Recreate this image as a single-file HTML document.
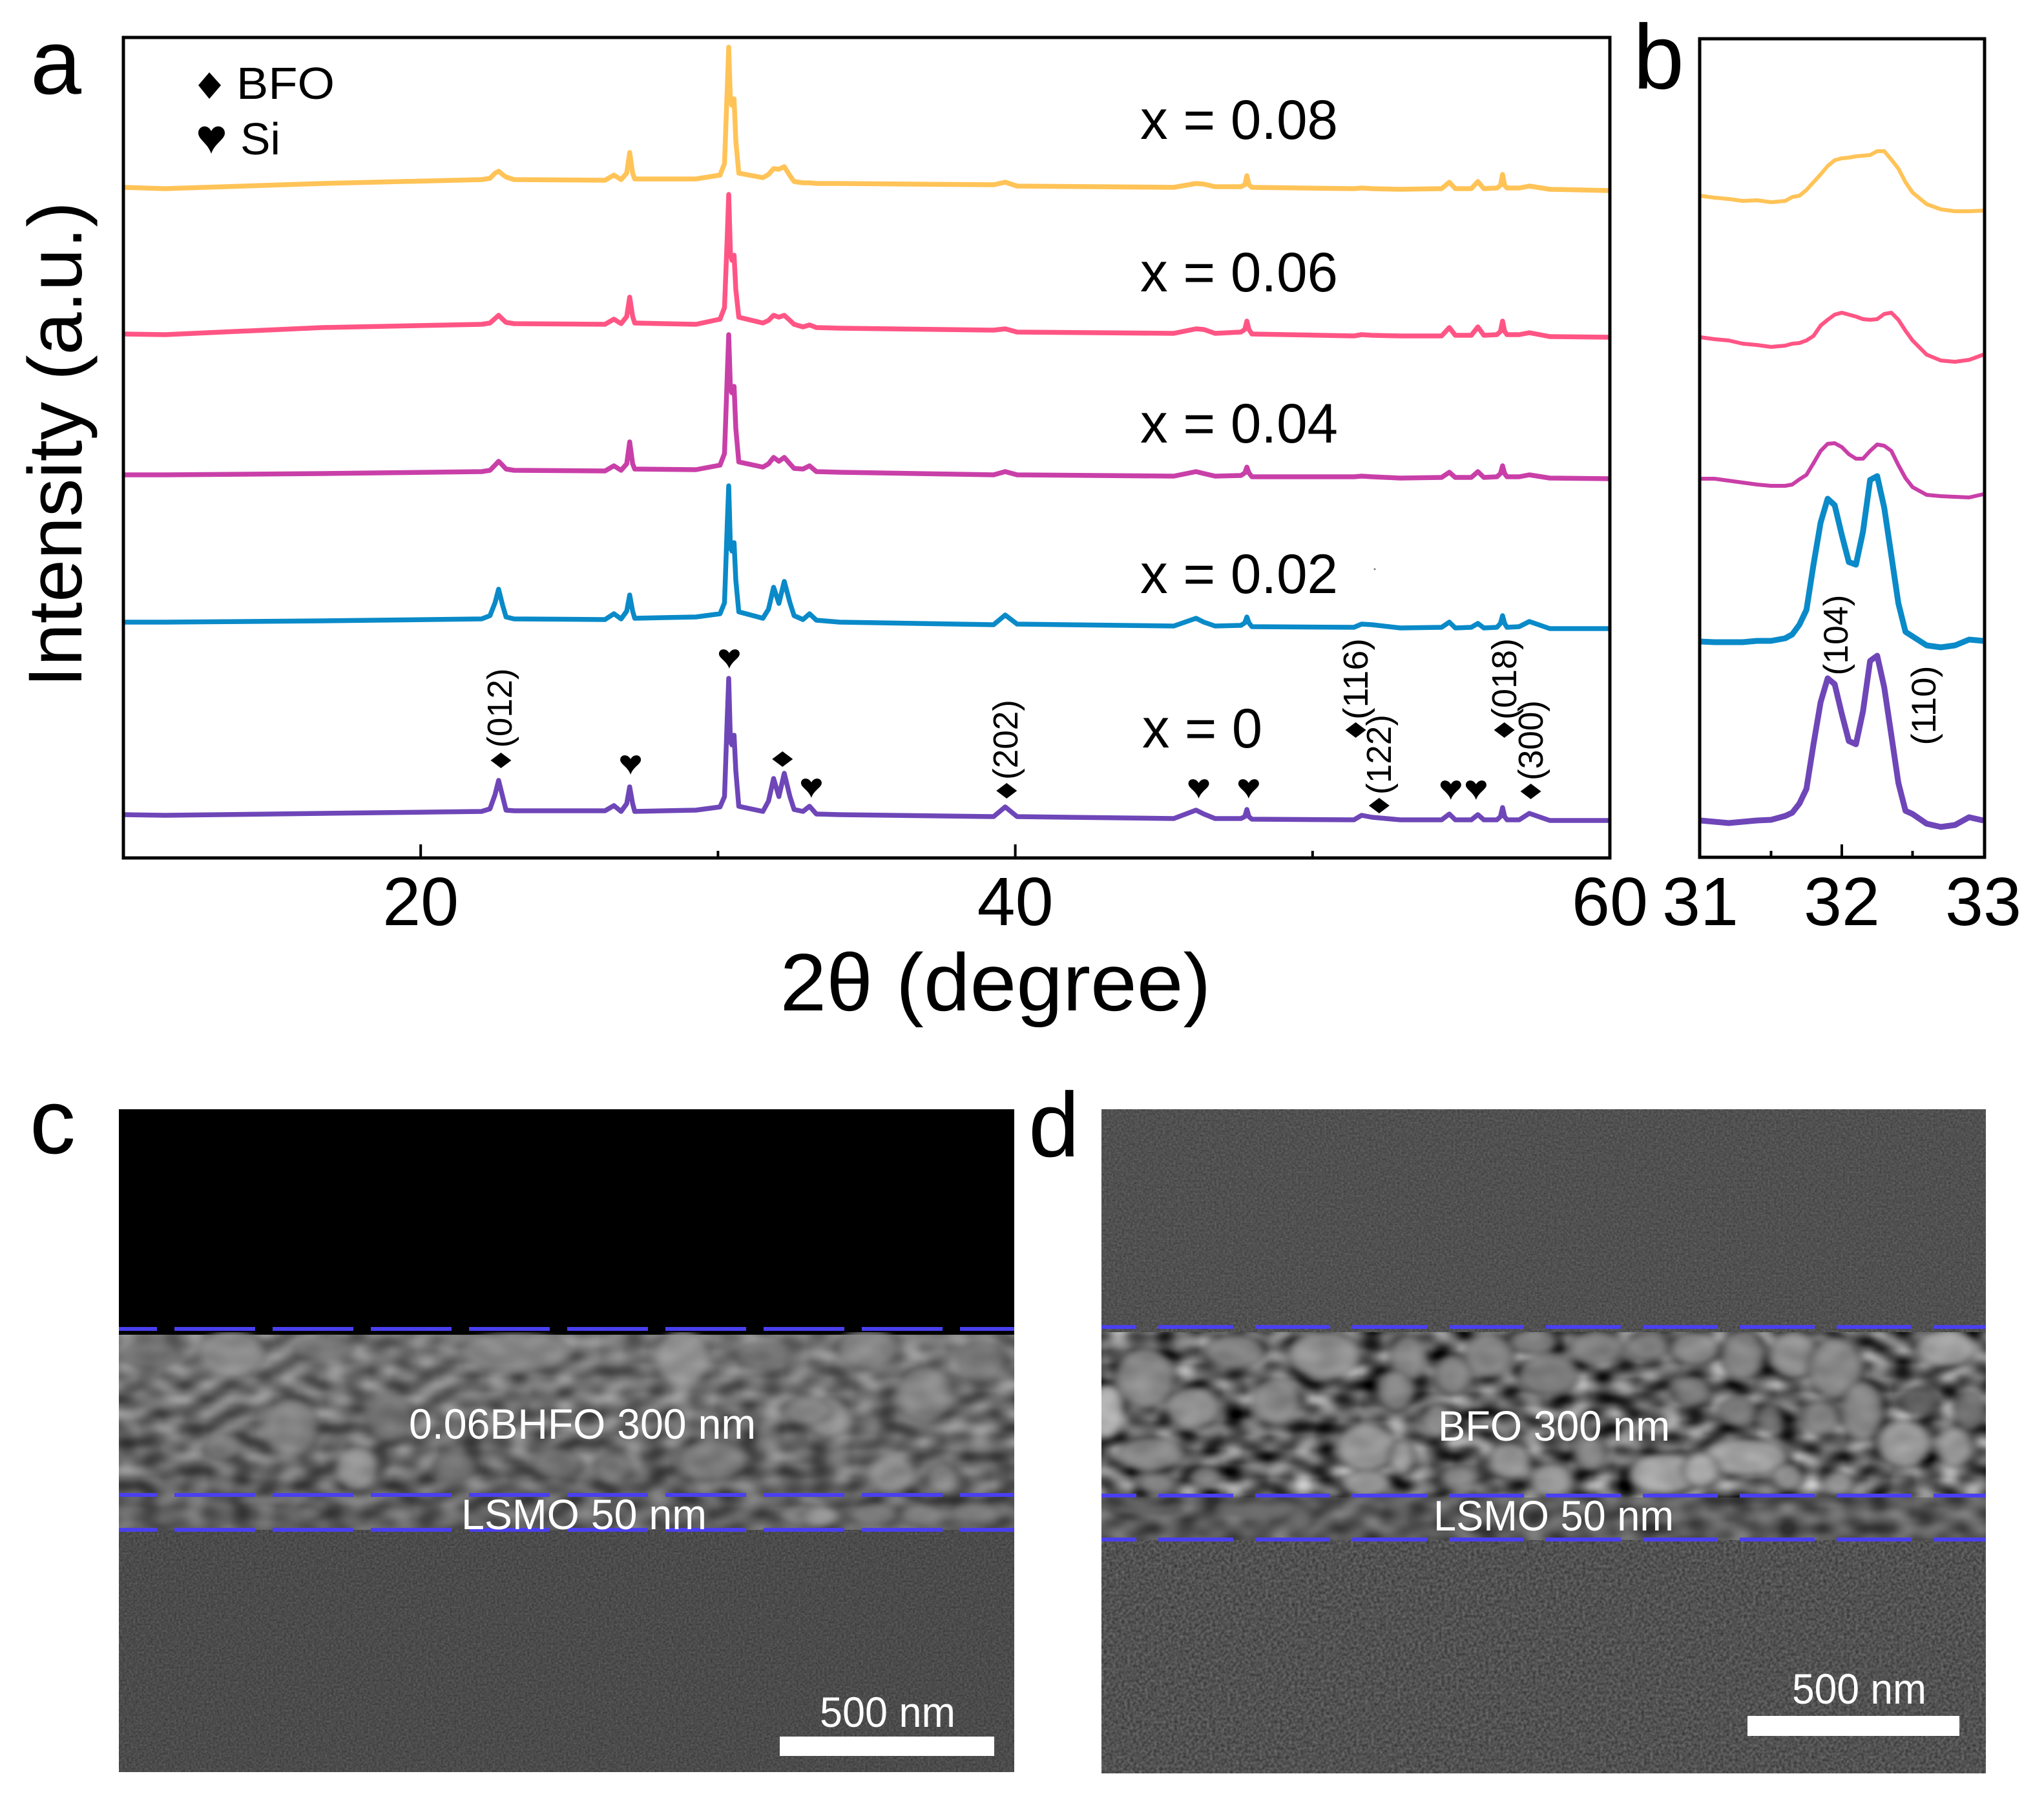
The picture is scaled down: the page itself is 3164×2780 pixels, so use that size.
<!DOCTYPE html>
<html lang="en">
<head>
<meta charset="utf-8">
<title>XRD patterns and SEM cross-sections</title>
<style>
html,body{margin:0;padding:0;background:#fff;}
svg{display:block;}
text{font-family:"Liberation Sans",sans-serif;}
</style>
</head>
<body>
<svg id="fig" xmlns="http://www.w3.org/2000/svg" width="3164" height="2780" viewBox="0 0 3164 2780">
  <defs>
    <filter id="noiseC" x="0" y="0" width="100%" height="100%" color-interpolation-filters="sRGB">
      <feTurbulence type="fractalNoise" baseFrequency="0.3" numOctaves="2" seed="4"/>
      <feColorMatrix type="matrix" values="0.2 0 0 0 0.195  0.2 0 0 0 0.195  0.2 0 0 0 0.195  0 0 0 0 1"/>
    </filter>
    <filter id="noiseV" x="0" y="0" width="100%" height="100%" color-interpolation-filters="sRGB">
      <feTurbulence type="fractalNoise" baseFrequency="0.3" numOctaves="2" seed="6"/>
      <feColorMatrix type="matrix" values="0.2 0 0 0 0.215  0.2 0 0 0 0.215  0.2 0 0 0 0.215  0 0 0 0 1"/>
    </filter>
    <filter id="noiseD" x="0" y="0" width="100%" height="100%" color-interpolation-filters="sRGB">
      <feTurbulence type="fractalNoise" baseFrequency="0.22" numOctaves="2" seed="9"/>
      <feColorMatrix type="matrix" values="0.3 0 0 0 0.17  0.3 0 0 0 0.17  0.3 0 0 0 0.17  0 0 0 0 1"/>
    </filter>
    <filter id="cellsC" x="0" y="0" width="100%" height="100%" color-interpolation-filters="sRGB">
      <feTurbulence type="fractalNoise" baseFrequency="0.028 0.045" numOctaves="1" seed="11"/>
      <feColorMatrix type="matrix" values="0.9 0 0 0 -0.02  0.9 0 0 0 -0.02  0.9 0 0 0 -0.02  0 0 0 0 1"/>
    </filter>
    <filter id="cellsD" x="0" y="0" width="100%" height="100%" color-interpolation-filters="sRGB">
      <feTurbulence type="fractalNoise" baseFrequency="0.028 0.045" numOctaves="1" seed="21"/>
      <feColorMatrix type="matrix" values="1.3 0 0 0 -0.28  1.3 0 0 0 -0.28  1.3 0 0 0 -0.28  0 0 0 0 1"/>
    </filter>
    <filter id="soft" x="-5%" y="-5%" width="110%" height="110%"><feGaussianBlur stdDeviation="7 9"/></filter>
    <linearGradient id="filmShadeC" x1="0" y1="0" x2="0" y2="1">
      <stop offset="0" stop-color="#8a8a8a" stop-opacity="0.35"/>
      <stop offset="0.35" stop-color="#6a6a6a" stop-opacity="0.2"/>
      <stop offset="0.8" stop-color="#303030" stop-opacity="0.25"/>
      <stop offset="1" stop-color="#555555" stop-opacity="0.55"/>
    </linearGradient>
    <clipPath id="clipFilmC"><rect x="184" y="2062" width="1386" height="306"/></clipPath>
    <clipPath id="clipFilmD"><rect x="1705" y="2062" width="1369" height="322"/></clipPath>
    <clipPath id="clipA"><rect x="191" y="58" width="2301" height="1270"/></clipPath>
    <clipPath id="clipB"><rect x="2631" y="60" width="441" height="1267"/></clipPath>
  </defs>

  <rect x="0" y="0" width="3164" height="2780" fill="#ffffff"/>

  <!-- panel letters -->
  <text x="47" y="145" font-size="142">a</text>
  <text x="2528" y="137" font-size="142">b</text>
  <text x="46" y="1785" font-size="142">c</text>
  <text x="1592" y="1790" font-size="142">d</text>

  <!-- panel a static -->
  <g id="panelA">
    <g id="seriesA" clip-path="url(#clipA)"></g>
    <rect x="191" y="58" width="2301" height="1270" fill="none" stroke="#000" stroke-width="5"/>
    <g id="ticksA"></g>
    <text x="1541" y="1564" font-size="126" text-anchor="middle" textLength="667" lengthAdjust="spacingAndGlyphs">2θ (degree)</text>
    <text transform="translate(126,688) rotate(-90)" font-size="118" text-anchor="middle" textLength="752" lengthAdjust="spacingAndGlyphs">Intensity (a.u.)</text>

    <path d="M324,112 L342,132 L324,153 L307,132 Z" fill="#000"/>
    <text x="366" y="153" font-size="70" textLength="152" lengthAdjust="spacingAndGlyphs">BFO</text>
    <path d="M327,238 C322,222 307,216 307,206 C307,195 321,191 327,203 C333,191 348,195 348,206 C348,216 332,222 327,238 Z" fill="#000"/>
    <text x="372" y="239" font-size="70" textLength="62" lengthAdjust="spacingAndGlyphs">Si</text>

    <text x="1765" y="215" font-size="86" textLength="306" lengthAdjust="spacingAndGlyphs">x = 0.08</text>
    <text x="1765" y="451" font-size="86" textLength="306" lengthAdjust="spacingAndGlyphs">x = 0.06</text>
    <text x="1765" y="685" font-size="86" textLength="306" lengthAdjust="spacingAndGlyphs">x = 0.04</text>
    <text x="1765" y="918" font-size="86" textLength="306" lengthAdjust="spacingAndGlyphs">x = 0.02</text>
    <text x="1768" y="1157" font-size="86" textLength="186" lengthAdjust="spacingAndGlyphs">x = 0</text>
    <circle cx="2128" cy="881" r="1.5" fill="#777"/>
    <g id="markersA"></g>

    <text transform="translate(792,1096) rotate(-90)" font-size="54" text-anchor="middle" textLength="123" lengthAdjust="spacingAndGlyphs">(012)</text>
    <text transform="translate(1575,1145) rotate(-90)" font-size="54" text-anchor="middle" textLength="124" lengthAdjust="spacingAndGlyphs">(202)</text>
    <text transform="translate(2117,1051) rotate(-90)" font-size="54" text-anchor="middle" textLength="126" lengthAdjust="spacingAndGlyphs">(116)</text>
    <text transform="translate(2153,1168) rotate(-90)" font-size="54" text-anchor="middle" textLength="124" lengthAdjust="spacingAndGlyphs">(122)</text>
    <text transform="translate(2347,1051) rotate(-90)" font-size="54" text-anchor="middle" textLength="126" lengthAdjust="spacingAndGlyphs">(018)</text>
    <text transform="translate(2388,1146) rotate(-90)" font-size="54" text-anchor="middle" textLength="124" lengthAdjust="spacingAndGlyphs">(300)</text>
  </g>

  <!-- panel b static -->
  <g id="panelB">
    <g id="seriesB" clip-path="url(#clipB)"></g>
    <rect x="2631" y="60" width="441" height="1267" fill="none" stroke="#000" stroke-width="5"/>
    <g id="ticksB"></g>
    <text transform="translate(2860,983) rotate(-90)" font-size="53" text-anchor="middle" textLength="125" lengthAdjust="spacingAndGlyphs">(104)</text>
    <text transform="translate(2996,1092) rotate(-90)" font-size="53" text-anchor="middle" textLength="123" lengthAdjust="spacingAndGlyphs">(110)</text>
  </g>

  <!-- panel c SEM -->
  <g id="panelC">
    <rect x="184" y="1717" width="1386" height="350" fill="#000"/>
    <rect x="184" y="2066" width="1386" height="302" fill="#666" filter="url(#cellsC)"/>
    <rect x="184" y="2066" width="1386" height="302" fill="url(#filmShadeC)"/>
    <g clip-path="url(#clipFilmC)">
      <g id="grainsC" transform="translate(150,1980) scale(0.925,0.51)" filter="url(#soft)" opacity="0.7"></g>
    </g>
    <rect x="184" y="2368" width="1386" height="375" fill="#4a4a4a" filter="url(#noiseC)"/>
    <g fill="none" stroke="#4a3ff0" stroke-width="6" stroke-dasharray="125 27" stroke-dashoffset="66">
      <line x1="184" y1="2057" x2="1570" y2="2057"/>
      <line x1="184" y1="2314" x2="1570" y2="2314"/>
      <line x1="184" y1="2368" x2="1570" y2="2368"/>
    </g>
    <g fill="#fff" font-size="66">
      <text x="633" y="2227" textLength="537" lengthAdjust="spacingAndGlyphs">0.06BHFO 300 nm</text>
      <text x="714" y="2367" textLength="380" lengthAdjust="spacingAndGlyphs">LSMO 50 nm</text>
      <text x="1269" y="2673" textLength="210" lengthAdjust="spacingAndGlyphs">500 nm</text>
    </g>
    <rect x="1207" y="2688" width="332" height="30" fill="#fff"/>
  </g>

  <!-- panel d SEM -->
  <g id="panelD">
    <rect x="1705" y="1717" width="1369" height="348" fill="#505050" filter="url(#noiseV)"/>
    <rect x="1705" y="2062" width="1369" height="322" fill="#555" filter="url(#cellsD)"/>
    <g clip-path="url(#clipFilmD)">
      <g id="grainsD" transform="translate(1680,1980) scale(0.925,0.51)" filter="url(#soft)" opacity="0.85"></g>
    </g>
    <rect x="1705" y="2318" width="1369" height="66" fill="#555555" fill-opacity="0.55"/>
    <rect x="1705" y="2384" width="1369" height="361" fill="#505050" filter="url(#noiseD)"/>
    <g fill="none" stroke="#4a3ff0" stroke-width="6" stroke-dasharray="116 34" stroke-dashoffset="62">
      <line x1="1705" y1="2054" x2="3074" y2="2054"/>
      <line x1="1705" y1="2315" x2="3074" y2="2315"/>
      <line x1="1705" y1="2383" x2="3074" y2="2383"/>
    </g>
    <g fill="#fff" font-size="66">
      <text x="2226" y="2230" textLength="359" lengthAdjust="spacingAndGlyphs">BFO 300 nm</text>
      <text x="2219" y="2369" textLength="372" lengthAdjust="spacingAndGlyphs">LSMO 50 nm</text>
      <text x="2774" y="2637" textLength="208" lengthAdjust="spacingAndGlyphs">500 nm</text>
    </g>
    <rect x="2705" y="2656" width="328" height="31" fill="#fff"/>
  </g>
</svg>

<script>
// ---------- Panel a data (2θ in degrees, intensity in a.u.) ----------
const wideTheta = [10,11.4,16.7,22.05,22.33,22.5,22.62,22.75,22.87,23.14,26.2,26.5,26.74,26.93,27.03,27.13,27.2,29.26,30.07,30.22,30.31,30.36,30.42,30.47,30.54,30.6,30.7,31.51,31.7,31.87,32.05,32.23,32.42,32.56,32.86,33.08,33.31,34.09,39.27,39.66,40.06,45.33,46.08,46.34,46.72,47.59,47.72,47.79,47.86,47.96,51.39,51.65,52,52.95,54.34,54.6,54.8,55.34,55.56,55.76,56.2,56.32,56.39,56.46,56.54,56.95,57.29,57.98,60];
const wideX008 = [1038,1036,1044,1050,1052,1060,1063,1058,1054,1050,1049,1057,1050,1060,1092,1060,1051,1051,1057,1075,1190,1255,1170,1165,1175,1110,1060,1053,1058,1067,1066,1070,1056,1047,1045,1045,1044,1044,1042,1046,1040,1038,1044,1043,1039,1039,1042,1056,1042,1038,1036,1037,1036,1035,1036,1046,1036,1036,1047,1036,1037,1041,1058,1041,1037,1037,1040,1035,1033];
const wideX006 = [811,810,821,826,828,835,840,834,829,827,826,834,827,838,868,838,828,826,834,852,960,1027,935,925,933,880,837,828,832,840,837,840,832,826,822,825,821,820,817,819,814,812,819,818,812,814,818,831,818,811,808,810,809,808,808,821,809,809,822,809,810,815,831,815,810,810,813,807,806];
const wideX004 = [593,593,595,598,600,608,614,608,602,600,599,607,600,610,644,610,602,601,608,626,745,810,725,720,730,665,613,605,610,620,614,620,610,603,602,607,598,597,593,598,593,591,598,595,591,592,596,605,596,590,590,591,590,588,589,597,589,589,598,589,590,595,607,595,590,590,593,588,587];
const wideX002 = [365,365,367,370,375,395,416,392,373,370,369,378,370,382,407,382,371,373,378,395,515,576,480,475,488,430,381,371,385,419,394,428,395,375,369,378,368,365,361,376,362,359,371,365,359,360,364,373,364,358,357,362,361,356,357,365,356,357,363,356,357,363,375,363,357,358,366,355,355];
const wideX000 = [67,66,69,72,76,98,120,96,74,73,73,81,72,84,110,84,72,74,79,95,215,278,180,175,190,135,80,72,88,123,95,131,95,75,72,80,68,67,64,79,64,61,74,68,61,61,64,75,64,60,59,66,63,59,59,68,59,59,67,59,59,64,78,64,59,59,69,58,58];

// ---------- Panel b data ----------
const zoomTheta = [31,31.1,31.2,31.3,31.4,31.5,31.6,31.65,31.7,31.75,31.8,31.85,31.9,31.95,32,32.05,32.1,32.15,32.2,32.25,32.3,32.35,32.4,32.45,32.5,32.6,32.7,32.8,32.9,33];
const zoomX008 = [1025,1022,1020,1017,1018,1015,1017,1023,1025,1034,1046,1058,1071,1080,1083,1084,1086,1087,1088,1094,1094,1081,1067,1046,1030,1012,1004,1001,1001,1002];
const zoomX006 = [806,803,801,796,794,791,793,796,797,801,808,824,833,841,844,841,838,834,833,834,842,844,833,816,801,779,770,768,771,779];
const zoomX004 = [587,587,584,581,578,576,576,578,586,593,611,630,641,642,636,625,618,618,630,640,638,630,608,588,574,562,560,559,558,563];
const zoomX002 = [335,334,334,334,336,336,340,346,361,384,454,519,556,546,500,458,454,505,585,591,542,468,394,350,343,329,326,329,338,336];
const zoomX000 = [58,56,54,56,58,59,65,70,84,107,176,241,278,269,223,181,176,227,305,313,264,190,116,73,68,53,48,51,63,58];

// ---------- Tick labels ----------
const wideMajorTicks = [20,40];
const wideMinorTicks = [30,50];
const wideTickLabels = [20,40,60];
const zoomMajorTicks = [32];
const zoomMinorTicks = [31.5,32.5];
const zoomTickLabels = [31,32,33];

// ---------- Peak markers (2θ, intensity of the marker) ----------
const bfoPeakTheta = [22.70,32.17,39.71,51.45,52.24,56.45,57.34];
const bfoPeakLevel = [151,153,104,198,81,198,103];
const siPeakTheta = [27.06,30.38,33.14,46.17,47.85,54.65,55.5];
const siPeakLevel = [129,293,93,92,92,90,90];

// ---------- Series names and colours ----------
const seriesNames = ['x-0-08','x-0-06','x-0-04','x-0-02','x-0'];
const seriesColors = ['#FFC357','#FF5585','#C93FA8','#0A8AC8','#6E46B8'];
const wideSeries = [wideX008,wideX006,wideX004,wideX002,wideX000];
const zoomSeries = [zoomX008,zoomX006,zoomX004,zoomX002,zoomX000];
const zoomWidths = [6,6,6,9,9];

// ---------- SEM grain textures: centre x, centre y, rx, ry, grey ----------
const grainsPanelC = [[225,225,55,70,'#999'],[980,240,45,85,'#a0a0a0'],[700,220,90,60,'#8c8c8c'],[1290,210,50,60,'#909090'],[1385,350,45,85,'#8f8f8f'],[1225,420,35,60,'#a0a0a0'],[1190,400,40,40,'#909090'],[1330,590,40,55,'#a0a0a0'],[1415,605,25,45,'#999'],[435,575,35,65,'#a5a5a5'],[325,450,45,85,'#8c8c8c'],[210,510,30,40,'#858585'],[1030,550,55,60,'#858585'],[490,420,40,70,'#777'],[600,570,35,40,'#808080'],[770,560,40,45,'#7a7a7a'],[865,570,30,40,'#858585'],[1180,715,35,30,'#999'],[1210,720,30,28,'#aaa'],[1300,715,40,30,'#8a8a8a'],[1380,715,35,30,'#909090'],[1470,710,40,30,'#888'],[280,670,45,15,'#8a8a8a'],[355,710,20,20,'#808080'],[90,230,50,40,'#777'],[380,210,50,35,'#7a7a7a'],[1110,230,40,40,'#777'],[1480,250,40,60,'#7d7d7d']];
const grainsPanelD = [[100,300,50,90,'#8f8f8f'],[35,400,30,80,'#c0c0c0'],[250,220,50,50,'#8c8c8c'],[400,230,60,70,'#999'],[180,390,45,60,'#999'],[320,370,40,70,'#8f8f8f'],[110,530,55,50,'#8f8f8f'],[470,510,50,70,'#a0a0a0'],[530,540,20,50,'#aaa'],[540,240,30,70,'#8c8c8c'],[615,290,30,60,'#8c8c8c'],[675,230,40,65,'#8f8f8f'],[775,290,50,60,'#858585'],[750,190,40,35,'#858585'],[855,210,45,50,'#858585'],[940,205,35,40,'#8a8a8a'],[1020,210,40,50,'#959595'],[1100,230,35,75,'#8c8c8c'],[1185,230,40,70,'#999'],[1255,270,45,90,'#909090'],[1300,400,35,90,'#8f8f8f'],[1440,210,50,55,'#aaa'],[1370,500,45,70,'#a5a5a5'],[1455,510,30,60,'#a0a0a0'],[1105,540,70,55,'#aaa'],[970,590,60,60,'#b0b0b0'],[1030,580,30,50,'#b5b5b5'],[710,550,35,55,'#a0a0a0'],[780,610,35,50,'#a0a0a0'],[845,530,25,50,'#909090'],[1175,600,25,40,'#a0a0a0'],[1260,620,25,35,'#a0a0a0'],[625,600,30,30,'#8f8f8f'],[470,620,40,40,'#a0a0a0'],[120,620,30,30,'#8f8f8f'],[200,600,25,30,'#858585'],[520,340,30,60,'#8c8c8c'],[590,430,25,50,'#959595'],[1015,340,30,45,'#808080'],[1090,400,30,40,'#808080'],[1230,420,30,50,'#888'],[1145,420,20,40,'#777'],[1395,370,30,40,'#666'],[1480,400,25,60,'#777'],[100,700,60,15,'#777'],[300,700,80,20,'#8c8c8c'],[360,730,20,30,'#999']];

// ---------- Axis functions ----------
const SVGNS = 'http://www.w3.org/2000/svg';
function xWide(t){ return 191 + (t - 10) * (2492 - 191) / (60 - 10); }
function xZoom(t){ return 2632 + (t - 31) * (3070 - 2632) / (33 - 31); }
function yLevel(v){ return 1328 - v; }
function mk(tag, parent){ const e = document.createElementNS(SVGNS, tag); parent.appendChild(e); return e; }
function pathFrom(xs, ys, xf){ return xs.map(function(t,i){ return (i ? 'L' : 'M') + xf(t).toFixed(1) + ',' + yLevel(ys[i]).toFixed(1); }).join(' '); }

const gSeriesA = document.getElementById('seriesA');
wideSeries.forEach(function(vals, i){
  const p = mk('path', gSeriesA);
  
  
  p.setAttribute('d', pathFrom(wideTheta, vals, xWide));
  p.setAttribute('fill', 'none');
  p.setAttribute('stroke', seriesColors[i]);
  p.setAttribute('stroke-width', '7.5');
  p.setAttribute('stroke-linejoin', 'round');
});

const gSeriesB = document.getElementById('seriesB');
zoomSeries.forEach(function(vals, i){
  const p = mk('path', gSeriesB);
  
  
  p.setAttribute('d', pathFrom(zoomTheta, vals, xZoom));
  p.setAttribute('fill', 'none');
  p.setAttribute('stroke', seriesColors[i]);
  p.setAttribute('stroke-width', String(zoomWidths[i]));
  p.setAttribute('stroke-linejoin', 'round');
});

function addTicks(group, values, xf, len, name){
  values.forEach(function(t){
    const l = mk('line', group);
    
    
    l.setAttribute('x1', xf(t)); l.setAttribute('x2', xf(t));
    l.setAttribute('y1', 1328); l.setAttribute('y2', 1328 - len);
    l.setAttribute('stroke', '#000'); l.setAttribute('stroke-width', '4');
  });
}
function addLabels(group, values, xf, name){
  values.forEach(function(t){
    const e = mk('text', group);
    
    
    e.setAttribute('x', xf(t));
    e.setAttribute('y', 1432);
    e.setAttribute('font-size', '106');
    e.setAttribute('text-anchor', 'middle');
    e.textContent = t;
  });
}
const gTicksA = document.getElementById('ticksA');
addTicks(gTicksA, wideMajorTicks, xWide, 21, 'x-major-tick');
addTicks(gTicksA, wideMinorTicks, xWide, 11, 'x-minor-tick');
addLabels(gTicksA, wideTickLabels, xWide, 'x-tick-label');
const gTicksB = document.getElementById('ticksB');
addTicks(gTicksB, zoomMajorTicks, xZoom, 21, 'zoom-major-tick');
addTicks(gTicksB, zoomMinorTicks, xZoom, 11, 'zoom-minor-tick');
addLabels(gTicksB, zoomTickLabels, xZoom, 'zoom-tick-label');

const gMarkers = document.getElementById('markersA');
bfoPeakTheta.forEach(function(t, i){
  const cx = xWide(t), cy = yLevel(bfoPeakLevel[i]);
  const d = mk('path', gMarkers);
  
  
  d.setAttribute('d', 'M' + (cx-16) + ',' + cy + ' L' + cx + ',' + (cy-12) + ' L' + (cx+16) + ',' + cy + ' L' + cx + ',' + (cy+12) + ' Z');
  d.setAttribute('fill', '#000');
});
siPeakTheta.forEach(function(t, i){
  const c = xWide(t), v = yLevel(siPeakLevel[i]);
  const h = mk('path', gMarkers);
  
  
  h.setAttribute('d', 'M'+c+','+v+' C'+(c-4)+','+(v-12)+' '+(c-16)+','+(v-16)+' '+(c-16)+','+(v-23)+' C'+(c-16)+','+(v-31)+' '+(c-5)+','+(v-33)+' '+c+','+(v-24)+' C'+(c+5)+','+(v-33)+' '+(c+16)+','+(v-31)+' '+(c+16)+','+(v-23)+' C'+(c+16)+','+(v-16)+' '+(c+4)+','+(v-12)+' '+c+','+v+' Z');
  h.setAttribute('fill', '#000');
});

function addGrains(id, list, name, outline, opacity){
  const g = document.getElementById(id);
  list.forEach(function(a){
    const e = mk('ellipse', g);
    
    
    e.setAttribute('cx', a[0]); e.setAttribute('cy', a[1]);
    e.setAttribute('rx', a[2]); e.setAttribute('ry', a[3]);
    e.setAttribute('fill', a[4]);
    e.setAttribute('stroke', outline);
    e.setAttribute('stroke-width', '8');
    e.setAttribute('stroke-opacity', opacity);
  });
}
addGrains('grainsC', grainsPanelC, 'sem-c-grain', '#3a3a3a', '0.45');
addGrains('grainsD', grainsPanelD, 'sem-d-grain', '#222222', '0.6');
</script>
</body>
</html>
